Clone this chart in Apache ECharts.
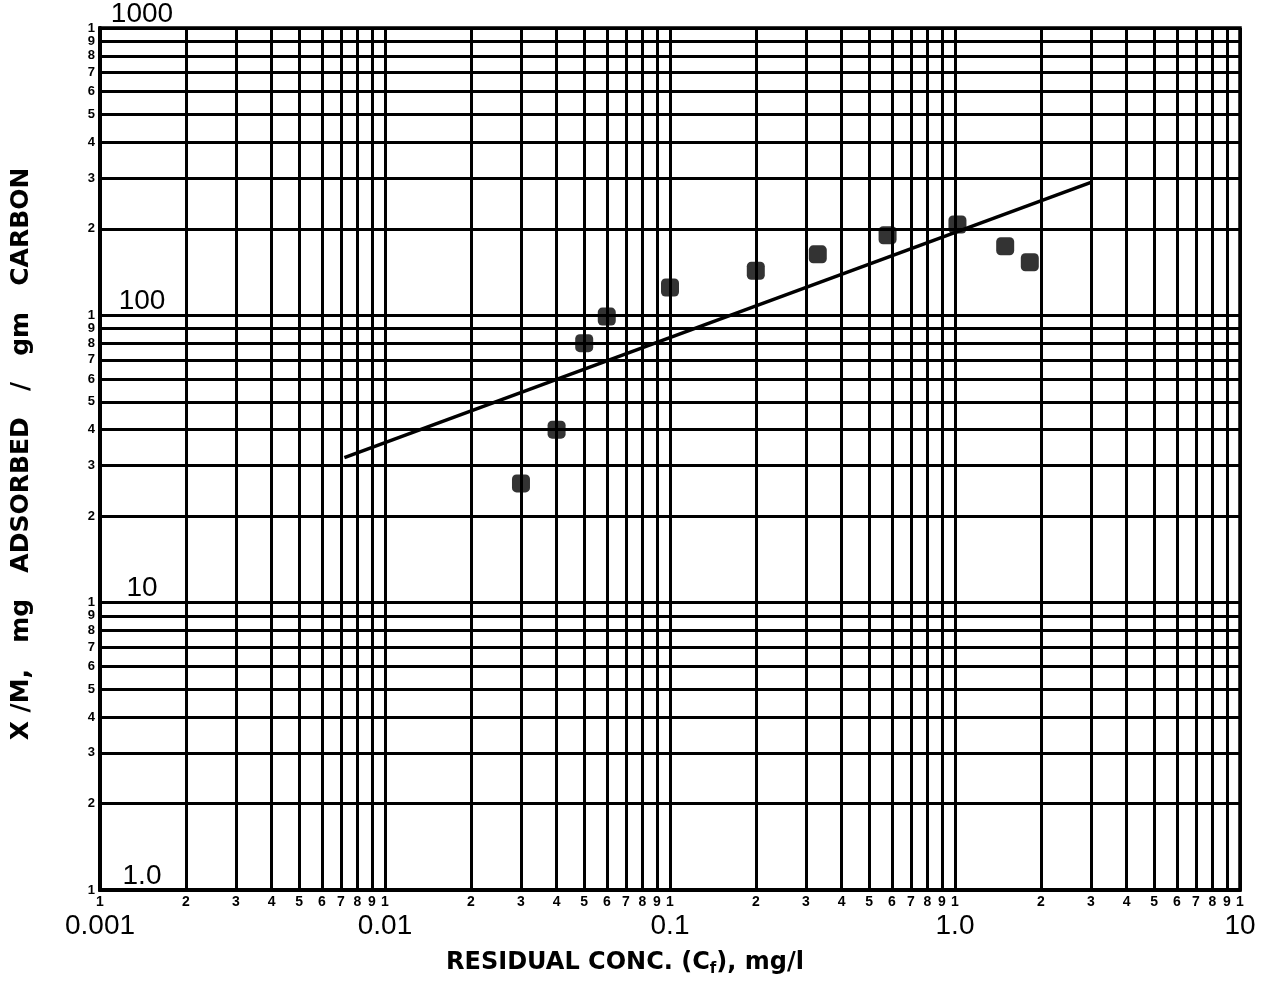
<!DOCTYPE html>
<html>
<head>
<meta charset="utf-8">
<script src="https://cdn.jsdelivr.net/npm/echarts@6/dist/echarts.min.js"></script>
<style>html,body{margin:0;padding:0;background:#fff;}#c{width:1267px;height:982px;}</style>
</head>
<body>
<div id="c"></div>
<script>
// ---- data ----
const xTicks = [0.001,0.002,0.003,0.004,0.005,0.006,0.007,0.008,0.009,
                0.01,0.02,0.03,0.04,0.05,0.06,0.07,0.08,0.09,
                0.1,0.2,0.3,0.4,0.5,0.6,0.7,0.8,0.9,
                1,2,3,4,5,6,7,8,9,10];
const yTicks = [1,2,3,4,5,6,7,8,9,
                10,20,30,40,50,60,70,80,90,
                100,200,300,400,500,600,700,800,900,1000];
const xDecades = [0.001, 0.01, 0.1, 1, 10];
const xDecadeLabels = ['0.001', '0.01', '0.1', '1.0', '10'];
const yDecades = [1, 10, 100, 1000];
const yDecadeLabels = ['1.0', '10', '100', '1000'];
const pointsX = [0.03, 0.04, 0.05, 0.06, 0.1, 0.2, 0.33, 0.58, 1.02, 1.5, 1.83];
const pointsY = [26, 40, 80, 99, 125, 143, 163, 190, 207, 174, 153];
const fitX = [0.0072, 3.0];
const fitY = [32, 290];

function mant(v){
  const e = Math.floor(Math.log10(v) + 1e-9);
  return String(Math.round(v / Math.pow(10, e)));
}
function pairs(xs, ys){ return xs.map((x,i)=>[x, ys[i]]); }

const chart = echarts.init(document.getElementById('c'), null, {renderer:'canvas'});
const gridLine = {show:true, lineStyle:{color:'#000', width:3}};
const smallLab = {fontFamily:'Liberation Sans', fontWeight:'bold', color:'#000',
                  showMinLabel:true, showMaxLabel:true, hideOverlap:false};
chart.setOption({
  backgroundColor:'#fff',
  animation:false,
  grid:{left:100, right:27, top:26, bottom:92, show:true, borderColor:'#000', borderWidth:3.5, backgroundColor:'transparent'},
  xAxis:[{
    type:'log', logBase:10, min:0.001, max:10,
    axisLine:{show:true, onZero:false, lineStyle:{color:'#000', width:4}},
    axisTick:{show:false, customValues:xTicks},
    axisLabel:Object.assign({customValues:xTicks, margin:5, fontSize:14, formatter:v=>mant(v)}, smallLab),
    splitLine:gridLine,
    name:'{t|RESIDUAL CONC. (C}{s|f}{t|), mg/l}',
    nameLocation:'middle', nameGap:58,
    nameTextStyle:{padding:[0,90,0,0], rich:{
      t:{fontFamily:'DejaVu Sans', fontWeight:'bold', fontSize:24, color:'#000'},
      s:{fontFamily:'DejaVu Sans', fontWeight:'bold', fontSize:15, color:'#000', verticalAlign:'top', padding:[14,0,0,0]}
    }}
  },{
    type:'log', logBase:10, min:0.001, max:10, position:'bottom',
    axisLine:{show:false}, axisTick:{show:false, customValues:xDecades}, splitLine:{show:false},
    axisLabel:{customValues:xDecades, margin:22, fontFamily:'Liberation Sans', fontSize:28, color:'#000',
      showMinLabel:true, showMaxLabel:true,
      formatter:v=>xDecadeLabels[xDecades.findIndex(d=>Math.abs(Math.log10(d)-Math.log10(v))<1e-6)]}
  }],
  yAxis:[{
    type:'log', logBase:10, min:1, max:1000,
    axisLine:{show:true, onZero:false, lineStyle:{color:'#000', width:4}},
    axisTick:{show:false, customValues:yTicks},
    axisLabel:Object.assign({customValues:yTicks, margin:5, fontSize:13, formatter:v=>mant(v)}, smallLab),
    splitLine:gridLine,
    name:'X /M,   mg   ADSORBED   /   gm   CARBON',
    nameLocation:'middle', nameGap:66, nameRotate:90,
    nameTextStyle:{fontFamily:'DejaVu Sans', fontWeight:'bold', fontSize:25, color:'#000', padding:[0,0,0,10]}
  },{
    type:'log', logBase:10, min:1, max:1000, position:'left',
    axisLine:{show:false}, axisTick:{show:false, customValues:yDecades}, splitLine:{show:false},
    axisLabel:{customValues:yDecades, inside:true, margin:42, align:'center', verticalAlign:'bottom',
      fontFamily:'Liberation Sans', fontSize:28, color:'#000', showMinLabel:true, showMaxLabel:true,
      formatter:v=>yDecadeLabels[yDecades.findIndex(d=>Math.abs(Math.log10(d)-Math.log10(v))<1e-6)]}
  }],
  series:[{
    type:'line', xAxisIndex:0, yAxisIndex:0,
    data:pairs(fitX, fitY), symbol:'none',
    lineStyle:{color:'#000', width:3.5}, z:5
  },{
    type:'scatter', xAxisIndex:0, yAxisIndex:0,
    data:pairs(pointsX, pointsY), symbol:'roundRect', symbolSize:18,
    itemStyle:{color:'#000'}, z:6
  }]
});
</script>
</body>
</html>
